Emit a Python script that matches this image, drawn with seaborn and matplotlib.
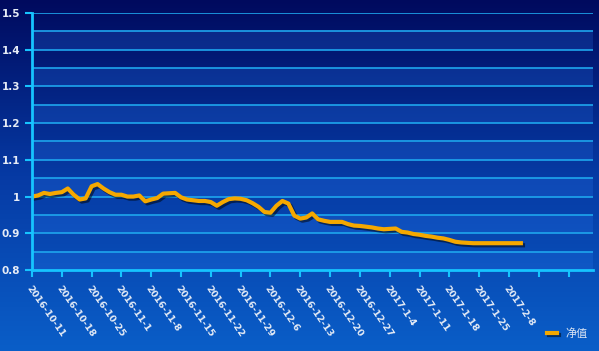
import numpy as np
import pandas as pd
import matplotlib
matplotlib.use("Agg")
import matplotlib.pyplot as plt
import matplotlib.patheffects as pe
from matplotlib.colors import LinearSegmentedColormap
import seaborn as sns

# 净值 by trading day (index 0 = 2016-10-11)
nav = [
    1.000, 1.003, 1.010, 1.007, 1.010, 1.012, 1.022, 1.005, 0.992, 0.995,
    1.028, 1.034, 1.022, 1.012, 1.005, 1.005, 1.000, 1.000, 1.003, 0.987,
    0.992, 0.996, 1.008, 1.009, 1.010, 0.998, 0.992, 0.990, 0.988, 0.988,
    0.985, 0.975, 0.985, 0.993, 0.995, 0.994, 0.990, 0.982, 0.972, 0.958,
    0.956, 0.975, 0.988, 0.981, 0.948, 0.940, 0.943, 0.954, 0.938, 0.934,
    0.931, 0.931, 0.931, 0.925, 0.921, 0.920, 0.918, 0.916, 0.913, 0.911,
    0.912, 0.913, 0.904, 0.902, 0.898, 0.896, 0.893, 0.891, 0.888, 0.886,
    0.882, 0.877, 0.875, 0.874, 0.873, 0.873, 0.873, 0.873, 0.873, 0.873,
    0.873, 0.873, 0.873,
]
week_labels = [
    "2016-10-11", "2016-10-18", "2016-10-25", "2016-11-1", "2016-11-8",
    "2016-11-15", "2016-11-22", "2016-11-29", "2016-12-6", "2016-12-13",
    "2016-12-20", "2016-12-27", "2017-1-4", "2017-1-11", "2017-1-18",
    "2017-1-25", "2017-2-8",
]
y_ticks = [0.8, 0.9, 1.0, 1.1, 1.2, 1.3, 1.4, 1.5]
y_labels = ["0.8", "0.9", "1", "1.1", "1.2", "1.3", "1.4", "1.5"]

df = pd.DataFrame({"day": np.arange(len(nav)), "净值": nav})

fig = plt.figure(figsize=(5.99, 3.51), dpi=100)

# gradient background
bg = fig.add_axes([0, 0, 1, 1], zorder=-10)
cmap = LinearSegmentedColormap.from_list("bg", ["#000a5e", "#063aa4", "#0a5ec8"])
bg.imshow(np.linspace(0, 1, 256).reshape(-1, 1), aspect="auto", cmap=cmap,
          extent=[0, 1, 0, 1])
bg.set_axis_off()

ax = fig.add_axes([32 / 599, 1 - 270 / 351, 561 / 599, 257 / 351])
ax.set_facecolor("none")

# alternating bands + grid lines every 0.05
for lo in np.arange(0.8, 1.5, 0.1):
    ax.axhspan(lo, lo + 0.05, color="#2f84ff", alpha=0.2, lw=0, zorder=0)
for g in np.arange(0.85, 1.51, 0.05):
    ax.axhline(g, color="#1ea6ee", lw=1.2, zorder=1)

sns.lineplot(data=df, x="day", y="净值", ax=ax, color="#f5a800", lw=3.0,
             label="净值", zorder=5,
             path_effects=[pe.SimpleLineShadow(offset=(1.5, -1.5), alpha=0.5),
                           pe.Normal()])

ax.set_xlim(0, 94.1)
ax.set_ylim(0.8, 1.5)
ax.set_xticks(np.arange(0, 91, 5))
ax.set_xticklabels(week_labels + [""] * 2)
ax.set_yticks(y_ticks)
ax.set_yticklabels(y_labels)
ax.set_xlabel("")
ax.set_ylabel("")

for s in ["top", "right"]:
    ax.spines[s].set_visible(False)
for s in ["left", "bottom"]:
    ax.spines[s].set_color("#16c4ff")
    ax.spines[s].set_linewidth(2)
    ax.spines[s].set_zorder(6)
ax.tick_params(axis="both", colors="#16c4ff", width=1.5, length=5)
ax.tick_params(axis="x", pad=5)
for lab in ax.get_yticklabels():
    lab.set_color("#e6ecf6")
    lab.set_fontsize(7.5)
    lab.set_fontweight("bold")
for lab in ax.get_xticklabels():
    lab.set_color("#e6ecf6")
    lab.set_fontsize(6.8)
    lab.set_fontweight("bold")
    lab.set_rotation(-55)
    lab.set_ha("left")
    lab.set_va("top")
    lab.set_rotation_mode("anchor")

leg = ax.legend(loc="lower right", bbox_to_anchor=(598 / 599, 0.005),
                bbox_transform=fig.transFigure, frameon=False,
                handlelength=0.9, handletextpad=0.8,
                prop={"family": ["Noto Sans CJK SC", "DejaVu Sans"], "size": 8})
for t in leg.get_texts():
    t.set_color("#dde6f4")

fig.savefig("out.png", dpi=100, facecolor=fig.get_facecolor())
